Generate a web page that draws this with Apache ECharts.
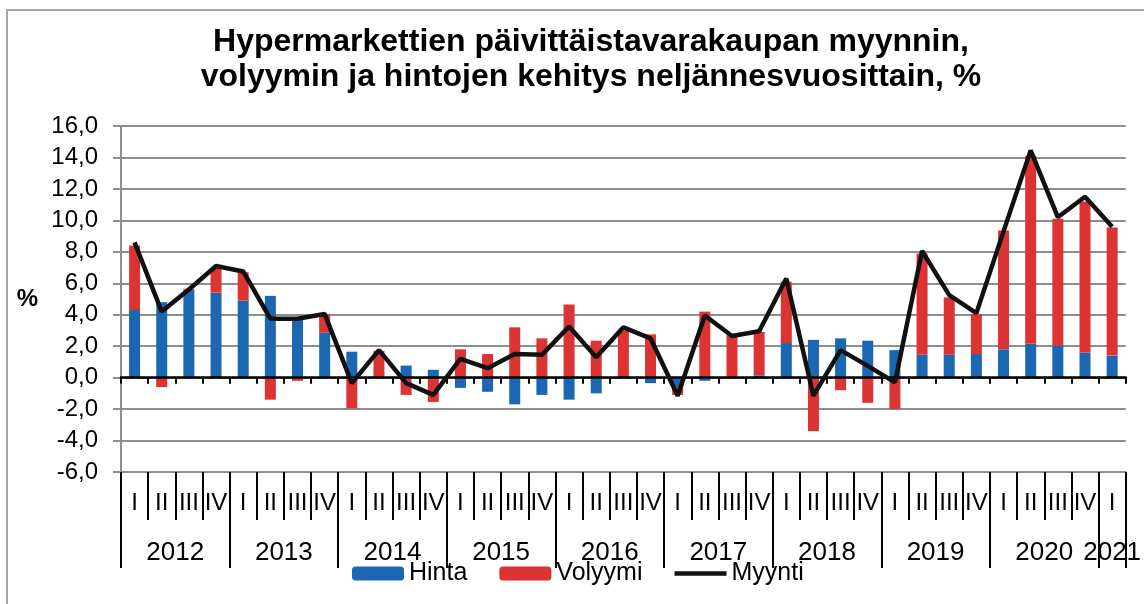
<!DOCTYPE html>
<html>
<head>
<meta charset="utf-8">
<script src="https://cdn.jsdelivr.net/npm/echarts@6/dist/echarts.min.js"></script>
<style>
html,body{margin:0;padding:0;background:#fff;}
#chart{width:1144px;height:604px;}
</style>
</head>
<body>
<div id="chart"></div>
<script>
// ---- data ----
const years = ['2012','2013','2014','2015','2016','2017','2018','2019','2020','2021'];
const quarterNames = ['I','II','III','IV'];
const hinta = [4.3, 4.8, 5.6, 5.4, 4.9, 5.2, 3.8, 2.85, 1.65, 0.0, 0.77, 0.5, -0.65, -0.9, -1.7, -1.1, -1.4, -1.0, 0.0, -0.35, -0.6, -0.2, 0.0, 0.15, 2.2, 2.4, 2.5, 2.35, 1.75, 1.45, 1.45, 1.5, 1.8, 2.15, 2.05, 1.6, 1.4];
const volyymi = [4.1, -0.6, 0.05, 1.6, 1.8, -1.4, -0.2, 1.2, -1.95, 1.7, -1.1, -1.55, 1.8, 1.5, 3.2, 2.5, 4.65, 2.35, 3.0, 2.75, -0.5, 4.2, 2.7, 2.75, 3.9, -3.4, -0.8, -1.6, -2.0, 6.45, 3.65, 2.55, 7.55, 11.95, 8.05, 9.6, 8.15];
const myynti = [8.6, 4.2, 5.6, 7.1, 6.75, 3.75, 3.75, 4.05, -0.35, 1.75, -0.35, -1.1, 1.2, 0.6, 1.5, 1.45, 3.25, 1.3, 3.2, 2.5, -1.15, 3.95, 2.65, 2.95, 6.3, -1.15, 1.75, 0.75, -0.3, 8.05, 5.25, 4.1, 9.3, 14.45, 10.2, 11.5, 9.6];
const seriesNames = ['Hinta', 'Volyymi', 'Myynti'];
const titleText = 'Hypermarkettien päivittäistavarakaupan myynnin,\nvolyymin ja hintojen kehitys neljännesvuosittain, %';

// ---- build category labels ----
const n = hinta.length;
const quarterLabels = [];
const yearLabels = [];
for (let i = 0; i < n; i++) {
  quarterLabels.push(quarterNames[i % 4]);
  yearLabels.push(years[Math.floor(i / 4)]);
}

const FONT = '"Liberation Sans", Arial, sans-serif';
const gridColor = '#8e8e8e';

const chart = echarts.init(document.getElementById('chart'));
chart.setOption({
  animation: false,
  backgroundColor: '#fff',
  textStyle: { fontFamily: FONT },
  graphic: [{
    type: 'rect', silent: true, z: -10,
    shape: { x: 7, y: 10, width: 1300, height: 800 },
    style: { fill: 'none', stroke: '#a6a6a6', lineWidth: 2 }
  }],
  title: {
    text: titleText,
    left: 591,
    textAlign: 'center',
    top: 25,
    padding: 0,
    textStyle: { fontFamily: FONT, fontSize: 32, fontWeight: 'bold', color: '#000', lineHeight: 34.5 }
  },
  legend: {
    left: 352, top: 561, padding: 0,
    itemWidth: 52, itemHeight: 14, itemGap: 32,
    textStyle: { fontFamily: FONT, fontSize: 25, color: '#000' },
    data: [
      { name: seriesNames[0] },
      { name: seriesNames[1] },
      { name: seriesNames[2], icon: 'path://M0,0L55,0L55,5L0,5Z' }
    ]
  },
  grid: { left: 121, right: 13, top: 126, bottom: 132, containLabel: false },
  xAxis: [
    {
      type: 'category', data: quarterLabels, position: 'bottom',
      axisLine: { onZero: false, lineStyle: { color: gridColor, width: 2 } },
      axisTick: { show: true, interval: 0, length: 48, lineStyle: { color: '#000', width: 2 } },
      axisLabel: { interval: 0, fontSize: 24, color: '#000', margin: 19, fontFamily: FONT }
    },
    {
      type: 'category', data: yearLabels, position: 'bottom',
      axisLine: { show: false, onZero: false },
      axisTick: { show: true, length: 96, lineStyle: { color: '#000', width: 2 },
        interval: function (i) { return i % 4 === 0; } },
      axisLabel: {
        fontSize: 26, color: '#000', margin: 68, fontFamily: FONT,
        interval: function (i) { return (i % 4 === 1 && i < 36) || i === 36; },
        formatter: function (v, i) { return i === 36 ? '{e|' + v + '}' : '{m|' + v + '}'; },
        rich: {
          m: { fontSize: 26, fontFamily: FONT, color: '#000', padding: [0, 0, 0, 27] },
          e: { fontSize: 26, fontFamily: FONT, color: '#000' }
        }
      }
    },
    {
      type: 'category', data: quarterLabels, position: 'bottom', z: 3,
      axisLine: { onZero: true, lineStyle: { color: '#000', width: 2.5 } },
      axisTick: { show: true, interval: 0, length: 6, lineStyle: { color: '#000', width: 2 } },
      axisLabel: { show: false }
    }
  ],
  yAxis: {
    type: 'value', min: -6, max: 16, interval: 2,
    name: '%', nameLocation: 'middle', nameRotate: 0, nameGap: 83,
    nameTextStyle: { fontFamily: FONT, fontSize: 24, fontWeight: 'bold', color: '#000' },
    axisLine: { show: true, lineStyle: { color: gridColor, width: 2 } },
    axisTick: { show: true, length: 8, lineStyle: { color: gridColor, width: 2 } },
    splitLine: { show: true, lineStyle: { color: gridColor, width: 2 } },
    axisLabel: {
      fontSize: 24, color: '#000', margin: 23, fontFamily: FONT,
      formatter: function (v) { return v.toFixed(1).replace('.', ','); }
    }
  },
  series: [
    {
      name: seriesNames[0], type: 'bar', stack: 'tot', data: hinta, barWidth: 11,
      itemStyle: { color: '#1c67b1' }, z: 2
    },
    {
      name: seriesNames[1], type: 'bar', stack: 'tot', data: volyymi, barWidth: 11,
      itemStyle: { color: '#dc3333' }, z: 2
    },
    {
      name: seriesNames[2], type: 'line', data: myynti, symbol: 'none', z: 5,
      lineStyle: { color: '#111', width: 4.5 }, itemStyle: { color: '#111' }
    }
  ]
});
</script>
</body>
</html>
